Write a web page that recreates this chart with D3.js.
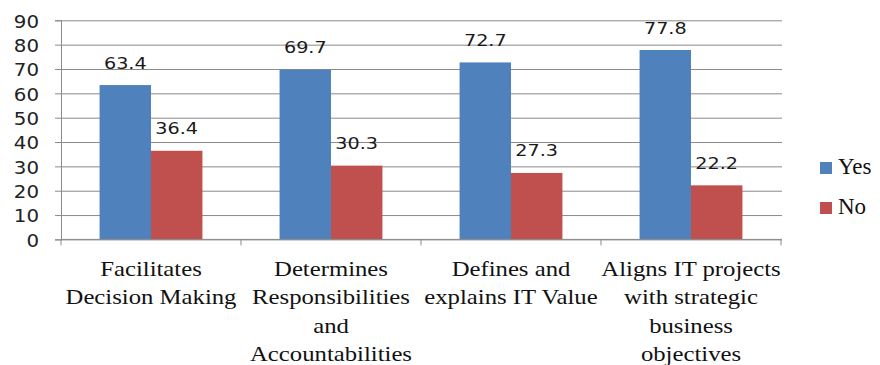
<!DOCTYPE html>
<html>
<head>
<meta charset="utf-8">
<script src="https://cdn.jsdelivr.net/npm/d3@7"></script>
<style>
  html, body { margin: 0; padding: 0; background: #fff; }
  svg { display: block; }
</style>
</head>
<body>
<svg id="chart" width="880" height="365"></svg>
<script>
// Categories, split into the lines they are printed on
const categories = [
  "Facilitates Decision Making",
  "Determines Responsibilities and Accountabilities",
  "Defines and explains IT Value",
  "Aligns IT projects with strategic business objectives"
];
const categoryLines = [
  ["Facilitates", "Decision Making"],
  ["Determines", "Responsibilities", "and", "Accountabilities"],
  ["Defines and", "explains IT Value"],
  ["Aligns IT projects", "with strategic", "business", "objectives"]
];
const seriesNames = ["Yes", "No"];
const yesValues = [63.4, 69.7, 72.7, 77.8];
const noValues = [36.4, 30.3, 27.3, 22.2];
const yTicks = [0, 10, 20, 30, 40, 50, 60, 70, 80, 90];
const seriesColors = ["#4F81BD", "#C0504D"];

const svg = d3.select("#chart");
const plotLeft = 61, plotRight = 781, plotTop = 20.3, plotBottom = 239.4;

const x = d3.scaleBand().domain(categories).range([plotLeft, plotRight]).paddingInner(0).paddingOuter(0);
const xs = d3.scaleBand().domain(seriesNames).range([0, x.bandwidth()]).paddingInner(0).paddingOuter(0.75);
const y = d3.scaleLinear().domain([0, 90]).range([plotBottom, plotTop]);
const color = d3.scaleOrdinal().domain(seriesNames).range(seriesColors);

const rows = categories.map((c, i) => ({ cat: c, values: [
  { key: "Yes", value: yesValues[i] },
  { key: "No", value: noValues[i] }
]}));

const gridColor = "#8a8a8a";

// Horizontal gridlines
const grid = svg.append("g").attr("transform", `translate(${plotLeft},0)`)
  .call(d3.axisLeft(y).tickValues(yTicks).tickSize(-(plotRight - plotLeft + 1)).tickFormat(""));
grid.select(".domain").remove();
grid.selectAll("line").attr("stroke", gridColor).attr("stroke-width", 1);

// Y axis with labels
const yAxis = svg.append("g").attr("transform", `translate(${plotLeft},0)`)
  .call(d3.axisLeft(y).tickValues(yTicks).tickSize(6).tickPadding(14));
yAxis.select(".domain").attr("stroke", gridColor);
yAxis.selectAll("line").attr("stroke", gridColor);
yAxis.selectAll("text")
  .attr("font-family", "'DejaVu Sans', sans-serif")
  .attr("font-size", 18)
  .attr("fill", "#222")
  .attr("dy", "0.38em")
  .attr("transform", "scale(1.1,1)");

// Bars
const groups = svg.append("g").selectAll("g").data(rows).join("g")
  .attr("transform", d => `translate(${x(d.cat)},0)`);
groups.selectAll("rect").data(d => d.values).join("rect")
  .attr("x", d => xs(d.key))
  .attr("width", xs.bandwidth())
  .attr("y", d => y(d.value))
  .attr("height", d => y(0) - y(d.value))
  .attr("fill", d => color(d.key));

// Value labels
groups.selectAll("text").data(d => d.values).join("text")
  .attr("transform", d => `translate(${xs(d.key) + xs.bandwidth() / 2},${y(d.value) - 16.5}) scale(1.2,1)`)
  .attr("text-anchor", "middle")
  .attr("font-family", "'DejaVu Sans', sans-serif")
  .attr("font-size", 16)
  .attr("fill", "#1a1a1a")
  .text(d => d.value.toFixed(1));

// X axis line and category boundary ticks
svg.append("line")
  .attr("x1", plotLeft).attr("x2", plotRight + 1)
  .attr("y1", y(0)).attr("y2", y(0))
  .attr("stroke", gridColor);
const boundaries = categories.map(c => x(c)).concat([x.range()[1]]);
svg.append("g").selectAll("line").data(boundaries).join("line")
  .attr("x1", d => d).attr("x2", d => d)
  .attr("y1", y(0)).attr("y2", y(0) + 6)
  .attr("stroke", gridColor);

// Category labels
const catLabels = svg.append("g").selectAll("g").data(categories).join("g")
  .attr("transform", c => `translate(${x(c) + x.bandwidth() / 2},276) scale(1.15,1)`);
catLabels.selectAll("text").data((c, i) => categoryLines[i]).join("text")
  .attr("y", (d, j) => j * 28.5)
  .attr("text-anchor", "middle")
  .attr("font-family", "'Liberation Serif', 'Times New Roman', serif")
  .attr("font-size", 21.5)
  .attr("fill", "#111")
  .text(d => d);

// Legend
const legend = svg.append("g").selectAll("g").data(seriesNames).join("g")
  .attr("transform", (d, i) => `translate(820,${162 + i * 40})`);
legend.append("rect").attr("width", 12).attr("height", 12).attr("fill", d => color(d));
legend.append("text")
  .attr("x", 18).attr("y", 12)
  .attr("font-family", "'Liberation Serif', 'Times New Roman', serif")
  .attr("font-size", 23)
  .attr("fill", "#111")
  .text(d => d);
</script>
</body>
</html>
